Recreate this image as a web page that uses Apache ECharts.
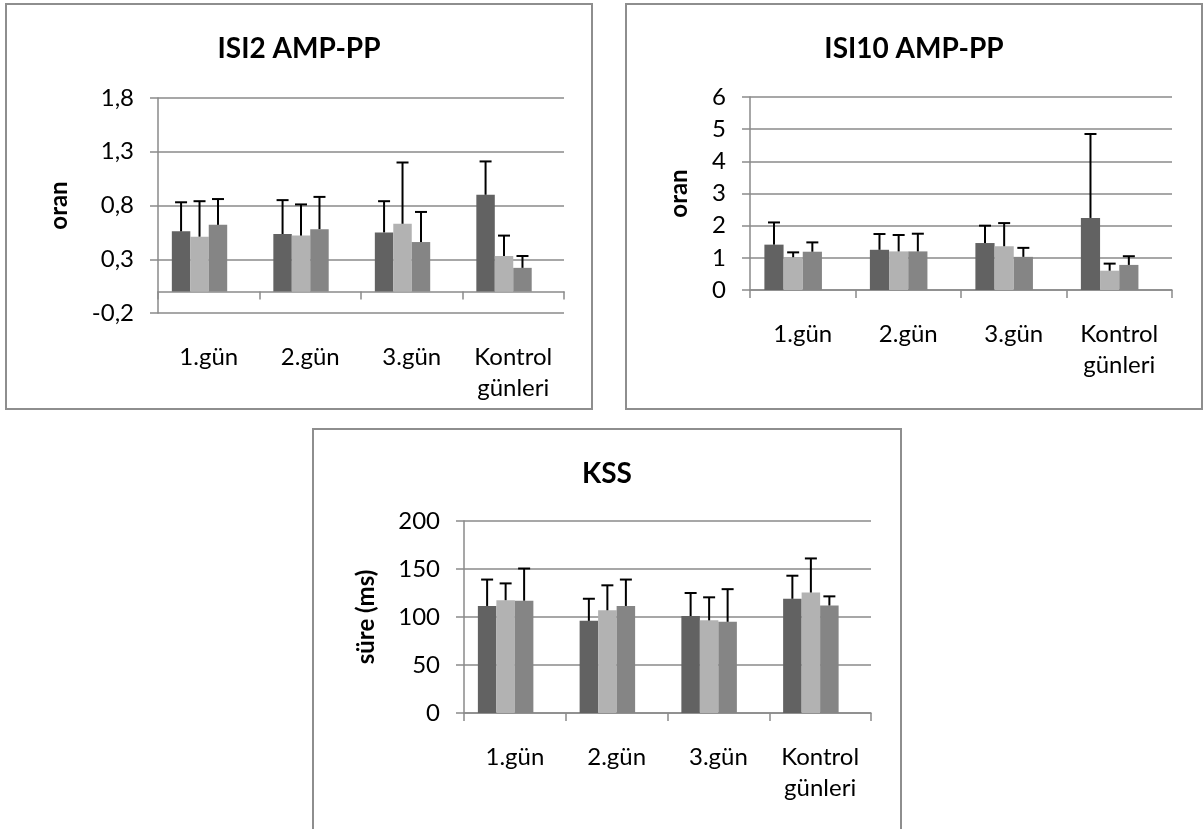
<!DOCTYPE html>
<html>
<head>
<meta charset="utf-8">
<script src="https://cdn.jsdelivr.net/npm/echarts@6/dist/echarts.min.js"></script>
<style>
    body { margin: 0; background: #fff; width: 1203px; height: 829px; overflow: hidden; position: relative; }
    .box { position: absolute; box-sizing: border-box; border: 2px solid #8e8e8e; background: #fff; }
</style>
</head>
<body>
<div id="c1" class="box" style="left:5px;top:3px;width:588px;height:407px"></div>
<div id="c2" class="box" style="left:625px;top:3px;width:578px;height:407px"></div>
<div id="c3" class="box" style="left:312px;top:428px;width:590px;height:420px"></div>
<script>
    var categories = ['1.gün', '2.gün', '3.gün', 'Kontrol\ngünleri'];

    // ISI2 AMP-PP (oran)
    var isi2Dark = [0.56, 0.535, 0.55, 0.90];
    var isi2DarkErr = [0.27, 0.315, 0.29, 0.31];
    var isi2Light = [0.51, 0.52, 0.63, 0.33];
    var isi2LightErr = [0.33, 0.29, 0.57, 0.19];
    var isi2Mid = [0.62, 0.58, 0.46, 0.22];
    var isi2MidErr = [0.24, 0.30, 0.28, 0.11];

    // ISI10 AMP-PP (oran)
    var isi10Dark = [1.41, 1.25, 1.46, 2.24];
    var isi10DarkErr = [0.69, 0.49, 0.54, 2.61];
    var isi10Light = [1.02, 1.20, 1.36, 0.60];
    var isi10LightErr = [0.15, 0.51, 0.72, 0.22];
    var isi10Mid = [1.19, 1.20, 1.03, 0.78];
    var isi10MidErr = [0.29, 0.55, 0.28, 0.27];

    // KSS süre (ms)
    var kssDark = [111.5, 96, 101, 119];
    var kssDarkErr = [27.5, 23, 24, 24];
    var kssLight = [117.5, 107, 96.5, 125.5];
    var kssLightErr = [17.5, 26, 24, 35.5];
    var kssMid = [117, 111.5, 95, 112];
    var kssMidErr = [33.5, 27.5, 34, 9.5];

    var colors = ['#626262', '#b2b2b2', '#858585'];
    var FONT = 'Lato, "Open Sans", sans-serif';
    var AX = '#8a8a8a';
    var GAP = 0.2727; // excel gap width 150%

    // hata çubuğu (sadece üst)
    function errorSeries(means, errs, idx) {
        return {
            type: 'custom',
            z: 10,
            silent: true,
            data: means.map(function (m, i) { return [i, m, m + errs[i]]; }),
            encode: { x: 0, y: [1, 2] },
            renderItem: function (params, api) {
                var c = api.value(0);
                var base = api.coord([c, api.value(1)]);
                var top = api.coord([c, api.value(2)]);
                var band = api.size([1, 0])[0];
                var bw = band * (1 - GAP) / 4;
                var x = base[0] - band * (1 - GAP) / 2 + (idx + 0.5) * bw;
                return {
                    type: 'group',
                    children: [
                        { type: 'line', shape: { x1: x, y1: base[1], x2: x, y2: top[1] }, style: { stroke: '#000', lineWidth: 2 } },
                        { type: 'line', shape: { x1: x - 6, y1: top[1], x2: x + 6, y2: top[1] }, style: { stroke: '#000', lineWidth: 2 } }
                    ]
                };
            }
        };
    }

    function makeOption(cfg) {
        var series = [];
        for (var i = 0; i < 3; i++) {
            series.push({
                type: 'bar',
                data: cfg.means[i],
                barGap: '0%',
                barCategoryGap: '27.27%',
                itemStyle: { color: colors[i] },
                silent: true
            });
        }
        // boş dördüncü seri (excel düzeni)
        series.push({ type: 'bar', data: [], barGap: '0%', barCategoryGap: '27.27%' });
        for (var j = 0; j < 3; j++) {
            series.push(errorSeries(cfg.means[j], cfg.errs[j], j));
        }
        return {
            animation: false,
            title: {
                text: cfg.title,
                left: 'center',
                top: 25,
                textStyle: { fontFamily: FONT, fontSize: 28, fontWeight: 'bold', color: '#000' }
            },
            grid: {
                left: cfg.grid[0], top: cfg.grid[1], width: cfg.grid[2], height: cfg.grid[3],
                outerBoundsMode: 'none'
            },
            xAxis: {
                type: 'category',
                data: categories,
                axisLine: { onZero: true, lineStyle: { color: AX, width: 1.5 } },
                axisTick: { show: true, length: 8, lineStyle: { color: AX, width: 1.5 } },
                splitLine: { show: false },
                axisLabel: {
                    interval: 0, margin: 29, color: '#000', fontFamily: FONT, fontSize: 24, lineHeight: 31
                }
            },
            yAxis: {
                type: 'value',
                min: cfg.min, max: cfg.max, interval: cfg.interval,
                axisLine: { show: true, lineStyle: { color: AX, width: 1.5 } },
                axisTick: { show: true, length: 8, lineStyle: { color: AX, width: 1.5 } },
                splitLine: { show: true, lineStyle: { color: AX, width: 1.5 } },
                axisLabel: {
                    margin: 24, color: '#000', fontFamily: FONT, fontSize: 24,
                    formatter: cfg.formatter
                },
                name: cfg.yName,
                nameLocation: 'middle',
                nameGap: cfg.nameGap,
                nameTextStyle: { fontFamily: FONT, fontSize: 24, fontWeight: 'bold', color: '#000' }
            },
            series: series
        };
    }

    var chart1 = echarts.init(document.getElementById('c1'));
    chart1.setOption(makeOption({
        title: 'ISI2 AMP-PP', yName: 'oran', nameGap: 87,
        min: -0.2, max: 1.8, interval: 0.5,
        formatter: function (v) { return v.toFixed(1).replace('.', ','); },
        grid: [151, 93, 406, 215],
        means: [isi2Dark, isi2Light, isi2Mid],
        errs: [isi2DarkErr, isi2LightErr, isi2MidErr]
    }));

    var chart2 = echarts.init(document.getElementById('c2'));
    chart2.setOption(makeOption({
        title: 'ISI10 AMP-PP', yName: 'oran', nameGap: 59,
        min: 0, max: 6, interval: 1,
        formatter: function (v) { return String(v); },
        grid: [123, 92, 422, 193],
        means: [isi10Dark, isi10Light, isi10Mid],
        errs: [isi10DarkErr, isi10LightErr, isi10MidErr]
    }));

    var chart3 = echarts.init(document.getElementById('c3'));
    chart3.setOption(makeOption({
        title: 'KSS', yName: 'süre (ms)', nameGap: 86,
        min: 0, max: 200, interval: 50,
        formatter: function (v) { return String(v); },
        grid: [150, 91, 407, 192],
        means: [kssDark, kssLight, kssMid],
        errs: [kssDarkErr, kssLightErr, kssMidErr]
    }));
</script>
</body>
</html>
